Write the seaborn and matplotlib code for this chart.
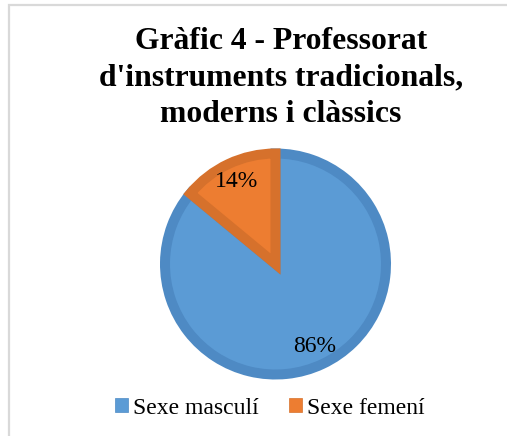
import matplotlib
matplotlib.use("Agg")
import matplotlib.pyplot as plt
from matplotlib.patches import Rectangle, Patch
import seaborn as sns

# data
categories = ["Sexe masculí", "Sexe femení"]
shares = [86, 14]
fill_colors = ["#5B9BD5", "#ED7D31"]
edge_colors = ["#4E8AC4", "#D6712C"]
title = "Gràfic 4 - Professorat\nd'instruments tradicionals,\nmoderns i clàssics"

sns.set_theme(style="white")
plt.rcParams["font.family"] = ["Liberation Serif", "DejaVu Serif"]
plt.rcParams["text.color"] = "black"

W, H = 507, 436
fig = plt.figure(figsize=(W / 100, H / 100), dpi=100)
fig.patch.set_facecolor("white")

# light chart-area border (top and left visible)
fig.patches.append(Rectangle((9 / W, -0.1), 1.0, 1.1 - 5 / H, transform=fig.transFigure,
                             fill=False, edgecolor="#D9D9D9", lw=1.6))

# pie axes: centre (275.5, 264) px, radius 110.5 px
cx, cy, r = 275.5, 264, 110.5
ax = fig.add_axes([(cx - r) / W, (H - cy - r) / H, 2 * r / W, 2 * r / H])
wedges, texts, autotexts = ax.pie(
    shares, colors=fill_colors, startangle=90, counterclock=False,
    autopct="%1.0f%%", pctdistance=0.83, radius=1,
    wedgeprops=dict(linewidth=7.2), textprops=dict(fontsize=17, color="black"))
for w, ec in zip(wedges, edge_colors):
    w.set_edgecolor(ec)
ax.set_xlim(-1, 1)
ax.set_ylim(-1, 1)
ax.axis("off")

fig.text(281 / W, 1 - 27 / H, title, ha="center", va="top", fontsize=22.8,
         fontweight="bold", linespacing=1.34, color="black")

handles = [Patch(facecolor=fc, edgecolor=ec, lw=0.5) for fc, ec in zip(fill_colors, edge_colors)]
fig.legend(handles, categories, loc="center", bbox_to_anchor=(270 / W, (H - 408) / H),
           ncol=2, frameon=False, fontsize=17, handlelength=0.55, handleheight=0.55,
           handletextpad=0.2, columnspacing=1.3, labelcolor="black")

fig.savefig("out.png", dpi=100, facecolor="white")
